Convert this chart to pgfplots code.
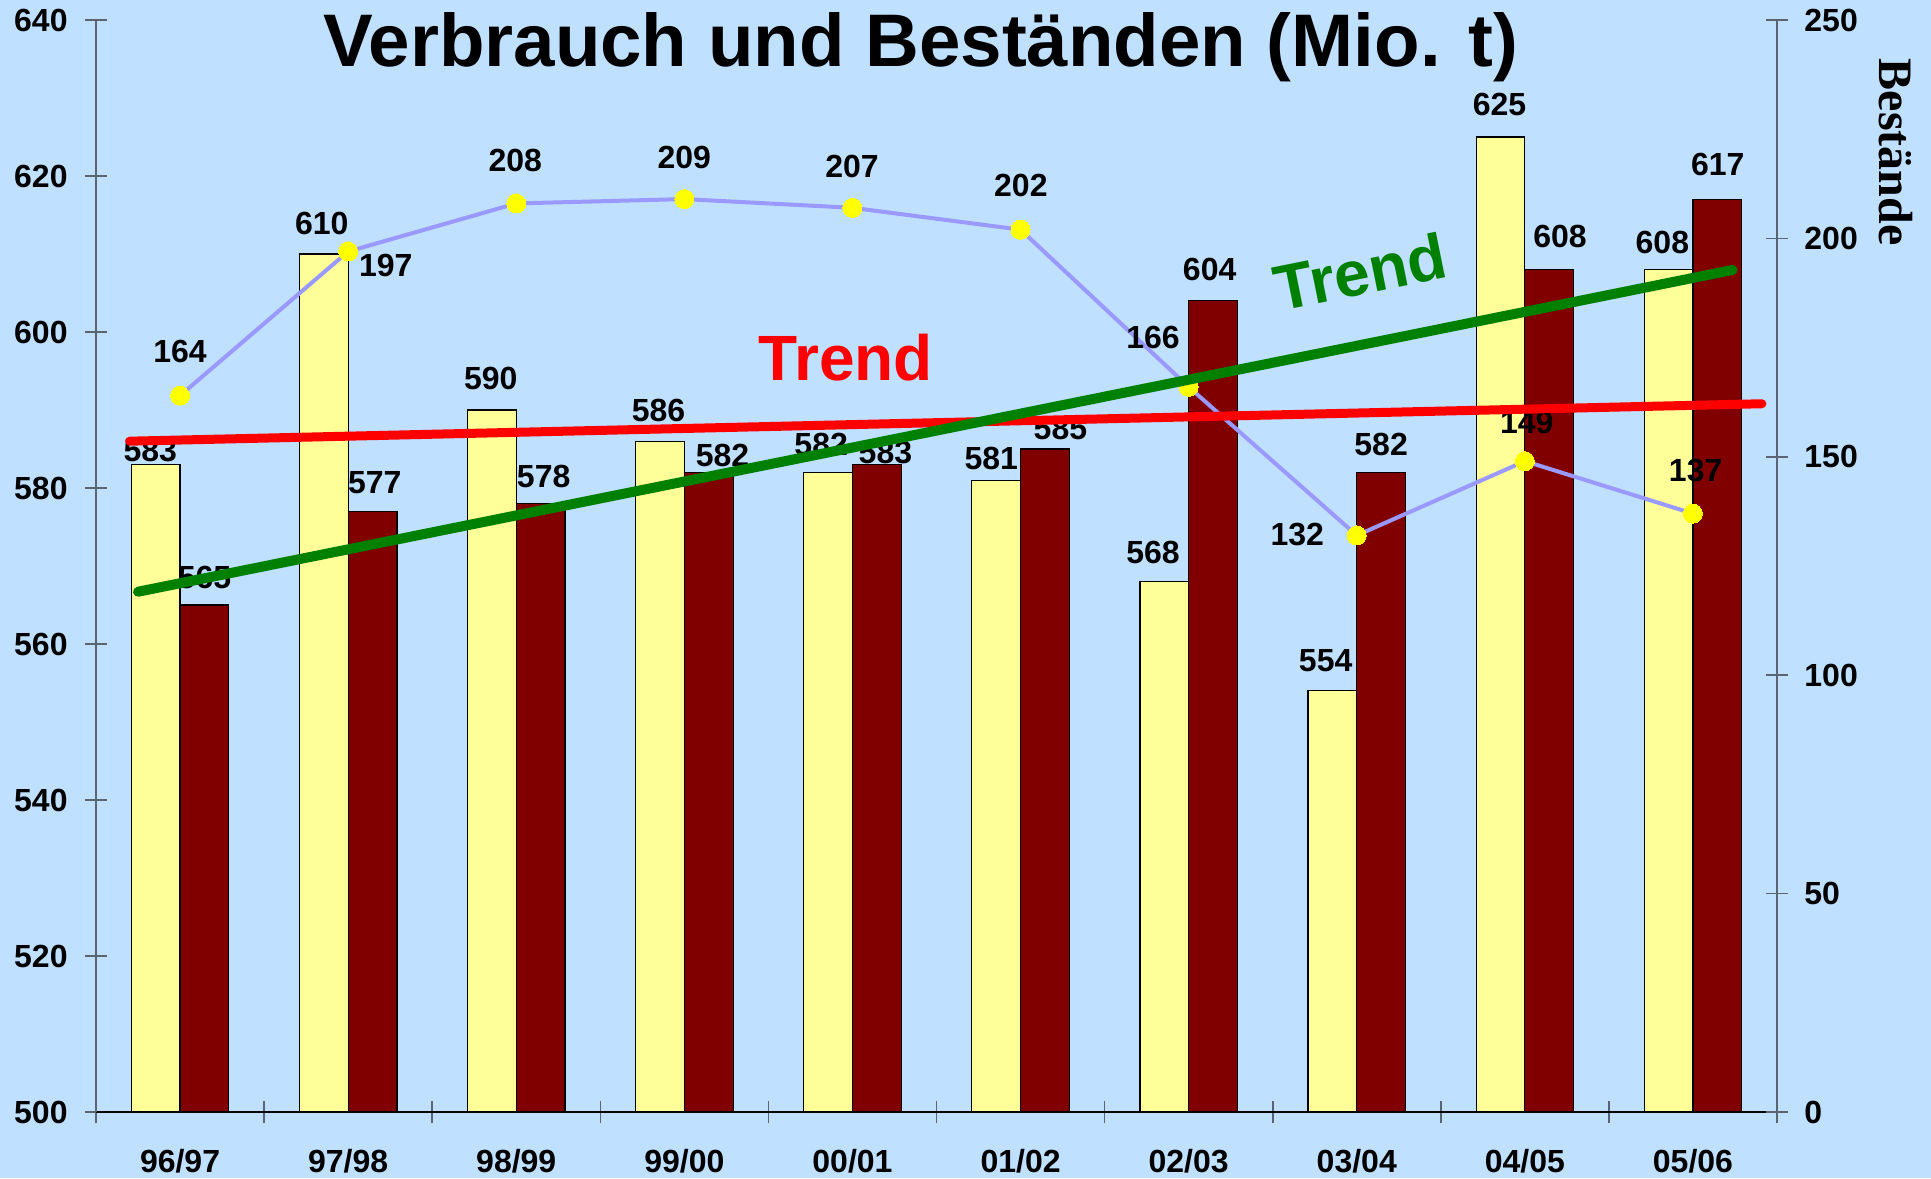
\documentclass[border=0pt]{standalone}
\usepackage{fontspec}
\setmainfont{Liberation Sans}
\newfontfamily\timesfont{Liberation Serif}
\usepackage{pgfplots}
\pgfplotsset{compat=1.18}
\definecolor{bgblue}{RGB}{192,224,255}
\definecolor{baryellow}{RGB}{255,255,153}
\definecolor{bardarkred}{RGB}{128,0,0}
\definecolor{stockline}{RGB}{153,153,255}
\definecolor{markyellow}{RGB}{255,255,0}
\definecolor{axisgray}{RGB}{90,100,115}
\definecolor{trendgreen}{RGB}{0,128,0}
\newcommand\lblfont{\bfseries\fontsize{16}{19}\selectfont}
\pgfplotsset{
  common/.style={width=840.5pt,height=546pt,scale only axis,
    xmin=-0.5,xmax=9.5,at={(0,0)},anchor=south west},
}
\begin{document}
\begin{tikzpicture}
\fill[bgblue] (-48pt,-33pt) rectangle (917.5pt,556pt);
\useasboundingbox (-48pt,-33pt) rectangle (917.5pt,556pt);
% ---------- axis 1: bars ----------
\begin{axis}[common,
  ymin=500, ymax=640,
  axis x line=bottom, axis y line=left,
  axis line style={-},
  x axis line style={draw=black, line width=1pt},
  y axis line style={draw=axisgray, line width=1pt},
  ytick={500,520,...,640},
  xtick={-0.5,0.5,...,9.5},
  xticklabels={96/97,97/98,98/99,99/00,00/01,01/02,02/03,03/04,04/05,05/06,{}},
  tick align=center, major tick length=11pt,
  tick style={draw=axisgray, line width=0.8pt},
  ticklabel style={font=\lblfont},
  /pgf/number format/assume math mode=true,
  yticklabel style={anchor=east, inner sep=0pt, xshift=-8.5pt},
  xticklabel style={anchor=center, inner sep=0pt, xshift=42.025pt, yshift=-19pt},
]
\addplot[ybar, bar width=0.29, bar shift=-0.145, fill=baryellow, draw=black, line width=0.6pt]
  coordinates {(0,583)(1,610)(2,590)(3,586)(4,582)(5,581)(6,568)(7,554)(8,625)(9,608)};
\addplot[ybar, bar width=0.29, bar shift=0.145, fill=bardarkred, draw=black, line width=0.6pt]
  coordinates {(0,565)(1,577)(2,578)(3,582)(4,583)(5,585)(6,604)(7,582)(8,608)(9,617)};
\addplot[draw=none, mark=none, nodes near coords, point meta=explicit symbolic,
  nodes near coords style={font=\lblfont, anchor=center, inner sep=0pt}]
  coordinates {
  (-0.177,584.8)[583] (0.146,568.5)[565]
  (0.843,613.9)[610] (1.158,580.7)[577]
  (1.848,594.1)[590] (2.163,581.5)[578]
  (2.846,590.0)[586] (3.227,584.2)[582]
  (3.814,585.6)[582] (4.196,584.6)[583]
  (4.826,583.8)[581] (5.237,587.6)[585]
  (5.788,571.7)[568] (6.125,608.0)[604]
  (6.815,557.9)[554] (7.145,585.6)[582]
  (7.849,629.2)[625] (8.209,612.2)[608]
  (8.818,611.5)[608] (9.148,621.5)[617]
  };
\end{axis}
% ---------- axis 2: stocks ----------
\begin{axis}[common,
  ymin=0, ymax=250,
  axis y line=right, axis x line=none,
  axis line style={-, draw=axisgray, line width=1pt},
  ytick={0,50,...,250}, xtick=\empty,
  tick align=center, major tick length=11pt,
  tick style={draw=axisgray, line width=0.8pt},
  ticklabel style={font=\lblfont},
  /pgf/number format/assume math mode=true,
  yticklabel style={anchor=west, inner sep=0pt, xshift=8pt},
]
\addplot[color=stockline, line width=2pt, mark=*, mark size=4.75pt,
  mark options={fill=markyellow, draw=markyellow, line width=0pt}]
  coordinates {(0,164)(1,197)(2,208)(3,209)(4,207)(5,202)(6,166)(7,132)(8,149)(9,137)};
\addplot[draw=none, mark=none, nodes near coords, point meta=explicit symbolic,
  nodes near coords style={font=\lblfont, anchor=center, inner sep=0pt}]
  coordinates {
  (0,174.0)[164] (1.224,193.8)[197] (1.994,217.8)[208] (3.0,218.6)[209]
  (3.997,216.4)[207] (5.002,212.1)[202] (5.788,177.4)[166] (6.646,132.2)[132]
  (8.011,157.9)[149] (9.016,146.9)[137]
  };
\end{axis}
% ---------- axis 3: trends and texts ----------
\begin{axis}[common, ymin=500, ymax=640, hide axis, clip=false]
\addplot[color=red, line width=4.5pt, line cap=round] coordinates {(-0.3,586.0)(9.41,590.8)};
\addplot[color=trendgreen, line width=5pt, line cap=round] coordinates {(-0.25,566.7)(9.235,607.95)};
\node[font=\bfseries\fontsize{32}{38}\selectfont, text=red, anchor=center, inner sep=0pt]
  at (axis cs:3.96,596.7) {Trend};
\node[font=\bfseries\fontsize{32}{38}\selectfont, text=trendgreen, anchor=center, inner sep=0pt, rotate=11.4]
  at (axis cs:7.02,607.7) {Trend};
\node[font=\bfseries\fontsize{37.25}{44}\selectfont, anchor=base, yshift=-23.5pt, inner sep=0pt]
  at (rel axis cs:0.4905,1) {Verbrauch und Beständen (Mio. t)};
\node[font=\timesfont\bfseries\fontsize{24}{29}\selectfont, rotate=-90, anchor=center, inner sep=0pt]
  at (rel axis cs:1.0708,0.879) {Bestände};
\end{axis}
\end{tikzpicture}
\end{document}
